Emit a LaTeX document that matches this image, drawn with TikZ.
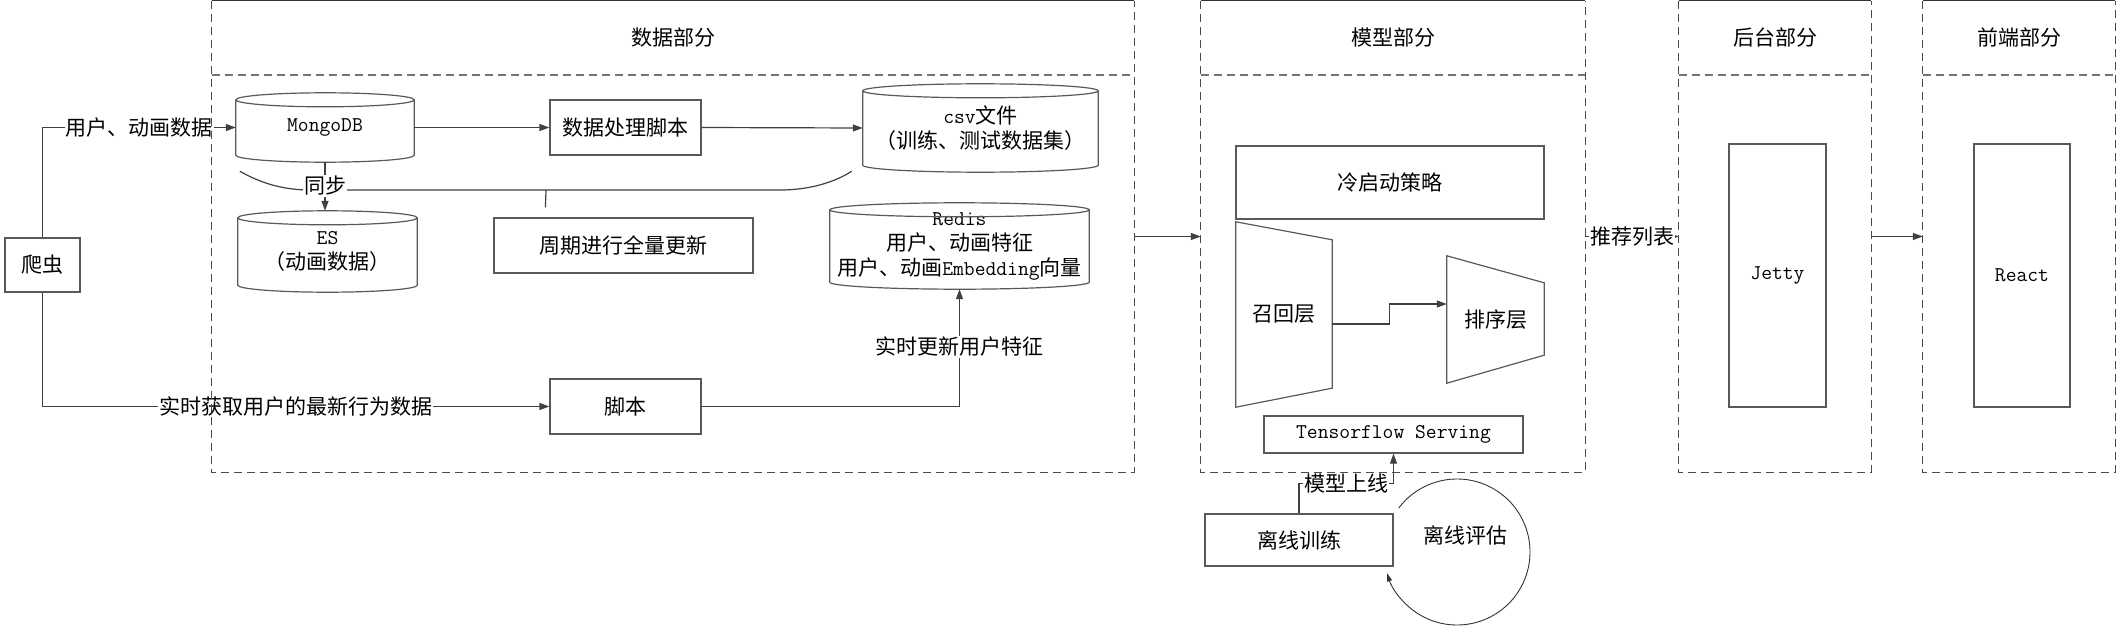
\documentclass[tikz,border=0pt]{standalone}
\usepackage{fontspec}
\newfontfamily\cjk{Noto Sans CJK SC}
\usetikzlibrary{arrows.meta,calc}
\newcommand\cylout[1]{%
  \draw[boxst] let \p1=(#1.north west), \p2=(#1.south east), \n1={(\x2-\x1)/2} in
    ({(\x1+\x2)/2},{\y1-7pt}) ellipse [x radius=\n1, y radius=7pt]
    (\x1,{\y1-7pt}) -- (\x1,{\y2+7pt}) arc [start angle=180, end angle=360, x radius=\n1, y radius=7pt] -- (\x2,{\y1-7pt});}
\begin{document}
\begin{tikzpicture}[x=1pt,y=-1pt,
  every node/.style={inner sep=0pt, font=\cjk\fontsize{21}{25}\selectfont},
  sec/.style={draw=none, minimum height=471pt},
  secline/.style={draw=black!70, line width=1.2pt, dash pattern=on 8pt off 5pt},
  divline/.style={draw=black!55, line width=1.6pt, dash pattern=on 8pt off 5pt},
  topline/.style={draw=black!80, line width=1.2pt},
  boxst/.style={draw=black!65, line width=1.2pt},
  box/.style={boxst, align=center},
  cylnode/.style={align=center},
  conn/.style={draw=black!75, line width=1.2pt, -{Triangle[length=10pt,width=7pt]}},
  plain/.style={draw=black!75, line width=1.2pt},
  lbl/.style={fill=white, inner sep=1pt}]
\useasboundingbox (0,0) rectangle (2121,626);

% sections
\node[sec, minimum width=922pt] (data) at (673,236.5) {};
\node[sec, minimum width=384pt] (model) at (1393,236.5) {};
\node[sec, minimum width=192pt] (back) at (1775,236.5) {};
\node[sec, minimum width=192pt] (front) at (2019,236.5) {};
\node (data-title) at ($(data.north)+(0,37)$) {数据部分};
\node (model-title) at ($(model.north)+(0,37)$) {模型部分};
\node (back-title) at ($(back.north)+(0,37)$) {后台部分};
\node (front-title) at ($(front.north)+(0,37)$) {前端部分};

% data part
\node[box, minimum width=75pt, minimum height=54pt] (crawler) at (42.5,265) {爬虫};
\node[cylnode, minimum width=178pt, minimum height=69pt] (mongo) at (325,127.5) {\ttfamily MongoDB};
\node[cylnode, minimum width=179pt, minimum height=81pt] (es) at (327.5,251.5) {{\ttfamily ES}\\（动画数据）};
\node[box, minimum width=151pt, minimum height=55pt] (proc) at (625.5,127.5) {数据处理脚本};
\node[cylnode, minimum width=235pt, minimum height=88pt] (csv) at (980.5,128) {{\ttfamily csv}文件\\（训练、测试数据集）};
\node[box, minimum width=259pt, minimum height=55pt] (period) at (623.5,245.5) {周期进行全量更新};
\node[cylnode, minimum width=259pt, minimum height=86pt] (redis) at (959.5,246) {{\ttfamily Redis}\\用户、动画特征\\用户、动画{\ttfamily Embedding}向量};
\node[box, minimum width=151pt, minimum height=55pt] (script) at (625.5,406.5) {脚本};
\cylout{mongo}
\cylout{es}
\cylout{csv}
\cylout{redis}

% model part
\node[box, minimum width=308pt, minimum height=73pt] (cold) at (1390,182.5) {冷启动策略};
\node[minimum width=96pt, minimum height=185pt] (recall) at (1284,314.5) {召回层};
\node[minimum width=97pt, minimum height=127pt] (rank) at (1495.5,319.5) {排序层};
\draw[boxst] (recall.north west) -- ($(recall.north east)+(0,18)$) -- ($(recall.south east)+(0,-19)$) -- (recall.south west) -- cycle;
\draw[boxst] (rank.north west) -- ($(rank.north east)+(0,27)$) -- ($(rank.south east)+(0,-28)$) -- (rank.south west) -- cycle;
\node[box, minimum width=259pt, minimum height=37pt] (tfs) at (1393.5,434.5) {\ttfamily Tensorflow Serving};
\node[box, minimum width=188pt, minimum height=52pt] (train) at (1299,540) {离线训练};
\node (eval) at (1465,535) {离线评估};
\coordinate (evc) at (1457,552);

% backend / frontend
\node[box, minimum width=97pt, minimum height=263pt] (jetty) at (1777.5,275.5) {\ttfamily Jetty};
\node[box, minimum width=96pt, minimum height=263pt] (react) at (2022,275.5) {\ttfamily React};

% connectors
\draw[conn] (crawler.north) |- node[lbl, pos=0.75] {用户、动画数据} (mongo.west);
\draw[conn] (crawler.south) |- node[lbl, pos=0.75] {实时获取用户的最新行为数据} (script.west);
\draw[conn] (mongo.east) -- (proc.west);
\draw[conn] (proc.east) -- (csv.west);
\coordinate (syncL) at ($(mongo.south west)+(4,9)$);
\coordinate (syncR) at ($(csv.south west)+(-11,-1)$);
\coordinate (brTop) at (546,190);
\coordinate (brEnd) at ($(period.north west)+(52,-10)$);
\draw[plain] (syncL) .. controls (262,184) and (285,190) .. (310,190) -- (780,190) .. controls (810,190) and (835,182) .. (syncR);
\draw[plain] (brTop) -- (brEnd);
\draw[conn] (mongo.south) -- node[lbl, pos=0.49] {同步} (mongo.south |- es.north);
\draw[conn] (script.east) -| node[lbl, pos=0.754] {实时更新用户特征} (redis.south);
\draw[conn] (data.east) -- (model.west);
\draw[conn] (model.east) -- node[lbl] {推荐列表} (back.west);
\draw[conn] (back.east) -- (front.west);
\draw[conn] ($(recall.east)+(0,9.5)$) -- ++(57,0) |- ($(rank.west)+(0,-15.5)$);
\draw[conn] (train.north) |- node[lbl, pos=0.75] {模型上线} ($(tfs.south)+(0,30)$) -- (tfs.south);
\draw[draw=black!80, line width=0.9pt, -{Triangle[length=8pt,width=5pt]}] ($(evc)+(143:73pt)$) arc[start angle=143, end angle=-163, radius=73pt];

% section borders on top
\foreach \s in {data,model,back,front} {
  \draw[secline] (\s.north west) -- (\s.south west) -- (\s.south east) -- (\s.north east);
  \draw[divline] ($(\s.north west)+(0,74)$) -- ($(\s.north east)+(0,74)$);
  \draw[topline] (\s.north west) -- (\s.north east);
}
\end{tikzpicture}
\end{document}
